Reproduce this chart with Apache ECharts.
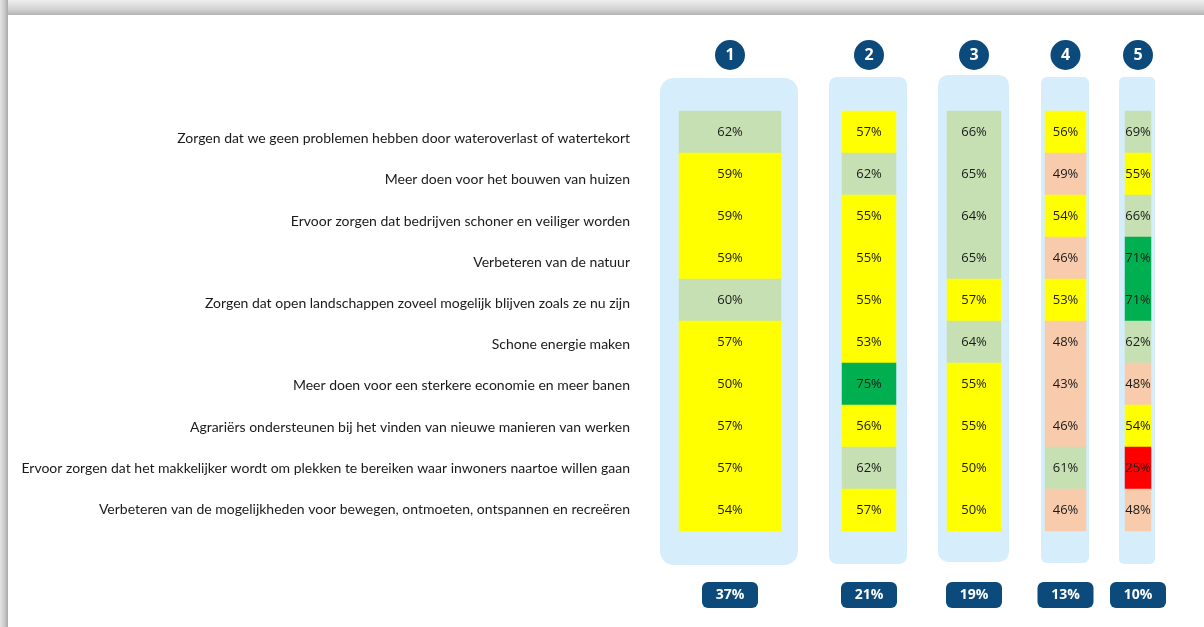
<!DOCTYPE html>
<html>
<head>
<meta charset="utf-8">
<script src="https://cdn.jsdelivr.net/npm/echarts@6/dist/echarts.min.js"></script>
<style>
  html, body { margin: 0; padding: 0; background: #fff; }
  #chart { width: 1204px; height: 627px; }
</style>
</head>
<body>
<div id="chart"></div>
<script>
// rows (top to bottom)
var rowLabels = [
    'Zorgen dat we geen problemen hebben door wateroverlast of watertekort',
    'Meer doen voor het bouwen van huizen',
    'Ervoor zorgen dat bedrijven schoner en veiliger worden',
    'Verbeteren van de natuur',
    'Zorgen dat open landschappen zoveel mogelijk blijven zoals ze nu zijn',
    'Schone energie maken',
    'Meer doen voor een sterkere economie en meer banen',
    'Agrariërs ondersteunen bij het vinden van nieuwe manieren van werken',
    'Ervoor zorgen dat het makkelijker wordt om plekken te bereiken waar inwoners naartoe willen gaan',
    'Verbeteren van de mogelijkheden voor bewegen, ontmoeten, ontspannen en recreëren'
];
var groupNames = ['1', '2', '3', '4', '5'];
var groupShares = ['37%', '21%', '19%', '13%', '10%'];
var group1 = [62, 59, 59, 59, 60, 57, 50, 57, 57, 54];
var group2 = [57, 62, 55, 55, 55, 53, 75, 56, 62, 57];
var group3 = [66, 65, 64, 65, 57, 64, 55, 55, 50, 50];
var group4 = [56, 49, 54, 46, 53, 48, 43, 46, 61, 46];
var group5 = [69, 55, 66, 71, 71, 62, 48, 54, 25, 48];
var groups = [group1, group2, group3, group4, group5];

var navy = '#0B4A7A';
var paleBlue = '#D6EEFC';

// column layout: cell box and the rounded background behind it
var cols = [
    {left: 679, width: 102, bg: [660, 78, 138, 487, 14]},
    {left: 842, width: 54,  bg: [829, 77, 78, 487, 8]},
    {left: 947, width: 54,  bg: [938, 75, 71, 487, 10]},
    {left: 1045, width: 41, bg: [1041, 77, 48, 486, 6]},
    {left: 1125, width: 26, bg: [1119, 77, 36, 487, 5]}
];

var grids = [], xAxes = [], yAxes = [], series = [], graphics = [];

// screenshot shadow frame
graphics.push({
    type: 'rect', z: 0,
    shape: {x: 0, y: 0, width: 1204, height: 15},
    style: {fill: new echarts.graphic.LinearGradient(0, 0, 0, 1, [
        {offset: 0, color: '#EEEEEE'}, {offset: 0.6, color: '#D4D4D4'}, {offset: 1, color: '#B4B4B4'}
    ])}
});
graphics.push({
    type: 'rect', z: 0,
    shape: {x: 0, y: 0, width: 8, height: 627},
    style: {fill: new echarts.graphic.LinearGradient(0, 0, 1, 0, [
        {offset: 0, color: '#E4E4E4'}, {offset: 0.6, color: '#C8C8C8'}, {offset: 1, color: '#A8A8A8'}
    ])}
});

for (var g = 0; g < groups.length; g++) {
    var c = cols[g];
    graphics.push({
        type: 'rect', z: 0,
        shape: {x: c.bg[0], y: c.bg[1], width: c.bg[2], height: c.bg[3], r: c.bg[4]},
        style: {fill: paleBlue}
    });
    grids.push({left: c.left, width: c.width, top: 111, height: 420});
    xAxes.push({
        type: 'category', gridIndex: g, position: 'top', data: [groupNames[g]],
        axisLine: {show: false}, axisTick: {show: false},
        axisLabel: {
            margin: 41, formatter: '{c|{value}}',
            rich: {c: {width: 30, height: 30, lineHeight: 30, borderRadius: 15, align: 'center',
                backgroundColor: navy, color: '#fff', fontSize: 16, fontWeight: 'bold',
                fontFamily: 'Open Sans'}}
        }
    });
    xAxes.push({
        type: 'category', gridIndex: g, position: 'bottom', data: [groupShares[g]],
        axisLine: {show: false}, axisTick: {show: false},
        axisLabel: {
            margin: 51, formatter: '{b|{value}}',
            rich: {b: {width: 56, height: 26, lineHeight: 26, borderRadius: 6, align: 'center',
                backgroundColor: navy, color: '#fff', fontSize: 14, fontWeight: 'bold',
                fontFamily: 'Open Sans'}}
        }
    });
    yAxes.push({
        type: 'category', gridIndex: g, inverse: true, data: rowLabels,
        axisLine: {show: false}, axisTick: {show: false}, splitLine: {show: false},
        axisLabel: {show: false}
    });
    var data = [];
    for (var i = 0; i < groups[g].length; i++) {
        data.push([0, i, groups[g][i]]);
    }
    series.push({
        type: 'heatmap', xAxisIndex: g * 2, yAxisIndex: g, data: data,
        label: {show: true, formatter: function (p) { return p.value[2] + '%'; },
            color: '#1a1a1a', fontSize: 13, fontFamily: 'Open Sans'},
        itemStyle: {borderWidth: 0},
        emphasis: {disabled: true}
    });
}

// row labels sit on their own, slightly tighter, axis
grids.push({left: 679, width: 10, top: 118, height: 412});
xAxes.push({type: 'category', gridIndex: 5, data: [''], show: false});
yAxes.push({
    type: 'category', gridIndex: 5, inverse: true, data: rowLabels,
    axisLine: {show: false}, axisTick: {show: false}, splitLine: {show: false},
    axisLabel: {margin: 49, color: '#1a1a1a', fontSize: 14, fontFamily: 'Lato'}
});

var chart = echarts.init(document.getElementById('chart'));
chart.setOption({
    backgroundColor: '#fff',
    animation: false,
    graphic: graphics,
    grid: grids,
    xAxis: xAxes,
    yAxis: yAxes,
    visualMap: {
        type: 'piecewise', show: false, dimension: 2, seriesIndex: [0, 1, 2, 3, 4],
        pieces: [
            {min: 70, color: '#00B050'},
            {min: 60, max: 69.99, color: '#C6E0B4'},
            {min: 50, max: 59.99, color: '#FFFF00'},
            {min: 26, max: 49.99, color: '#F8CBAD'},
            {max: 25.99, color: '#FF0000'}
        ]
    },
    series: series
});
</script>
</body>
</html>
